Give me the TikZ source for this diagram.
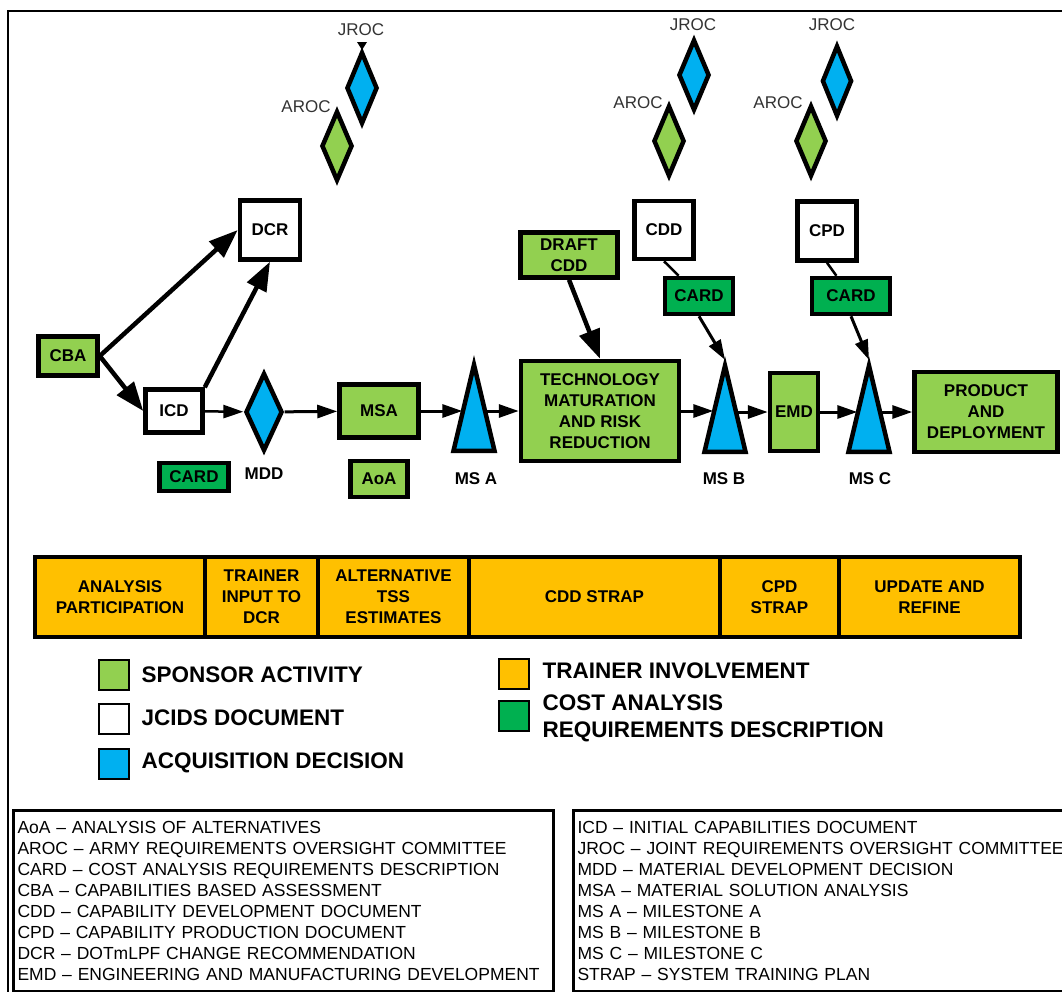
\documentclass[tikz,border=0pt]{standalone}
\usepackage{fontspec}
\setmainfont{Liberation Sans}
\usepackage{xcolor}
\usetikzlibrary{shapes.geometric,arrows.meta}
\definecolor{sponsor}{HTML}{92D050}
\definecolor{decision}{HTML}{00B0F0}
\definecolor{cost}{HTML}{00B050}
\definecolor{trainer}{HTML}{FFC000}

\begin{document}
\begin{tikzpicture}[x=1pt, y=-1pt, >={Triangle[length=20pt,width=13pt]},
  box/.style={draw, line width=4.5pt, inner sep=0pt, align=center, font=\bfseries\fontsize{17}{21}\selectfont},
  act/.style={box, fill=sponsor},
  doc/.style={box, fill=white},
  card/.style={box, fill=cost},
  dia/.style={diamond, draw, line width=4.5pt, inner sep=0pt},
  ms/.style={isosceles triangle, isosceles triangle stretches, shape border rotate=90, draw, line width=4.5pt, fill=decision, inner sep=0pt, minimum width=41pt, minimum height=86pt, anchor=lower side},
  lbl/.style={font=\bfseries\fontsize{17}{21}\selectfont},
  board/.style={font=\fontsize{17}{20}\selectfont, text=black!80},
  band/.style={box, fill=trainer, minimum height=80pt},
  key/.style={draw, line width=2pt, minimum width=30pt, minimum height=30pt, inner sep=0pt},
  keytext/.style={anchor=west, align=left, font=\bfseries\fontsize{22.5}{27}\selectfont},
  glossary/.style={draw, line width=3pt, anchor=north west, align=left, inner xsep=4pt, text width=532pt, minimum width=540pt, minimum height=181pt, font=\fontsize{17.5}{21.1}\selectfont},
  heavy/.style={->, line width=4.5pt, >={Triangle[length=29pt,width=21pt]}},
  flow/.style={->, line width=3pt},
  link/.style={line width=2.5pt}]
\path[use as bounding box, fill=white] (0,0) rectangle (1062,991);
\draw[line width=2.5pt] (8,995) -- (8,11) -- (1070,11);

% oversight reviews
\node[board] (JR1) at (361,30) {JROC};
\node[board] (JR2) at (693,25) {JROC};
\node[board] (JR3) at (832,25) {JROC};
\node[board] (AR1) at (306,107) {AROC};
\node[board] (AR2) at (638,103) {AROC};
\node[board] (AR3) at (778,103) {AROC};
\fill (357,42) -- (367,42) -- (362,50) -- cycle;
\node[dia, fill=decision, minimum width=31pt, minimum height=72pt] (J1) at (362,88) {};
\node[dia, fill=sponsor, minimum width=31pt, minimum height=70pt] (A1) at (337,146) {};
\node[dia, fill=decision, minimum width=31pt, minimum height=71pt] (J2) at (694,75) {};
\node[dia, fill=sponsor, minimum width=31pt, minimum height=71pt] (A2) at (669,141) {};
\node[dia, fill=decision, minimum width=30pt, minimum height=71pt] (J3) at (837,81) {};
\node[dia, fill=sponsor, minimum width=31pt, minimum height=71pt] (A3) at (811,141) {};

% documents
\node[doc, minimum width=60pt, minimum height=59pt] (DCR) at (270,230) {DCR};
\node[doc, minimum width=59pt, minimum height=58pt] (CDD) at (664,230) {CDD};
\node[doc, minimum width=59pt, minimum height=59pt] (CPD) at (827,231) {CPD};
\node[act, minimum width=97pt, minimum height=45pt] (DCDD) at (569,255) {DRAFT\\CDD};
\node[card, minimum width=68pt, minimum height=36pt] (CARD1) at (699,296) {CARD};
\node[card, minimum width=78pt, minimum height=36pt] (CARD2) at (851,296) {CARD};

% main line
\node[act, minimum width=59pt, minimum height=39pt] (CBA) at (68,356) {CBA};
\node[doc, minimum width=57pt, minimum height=43pt] (ICD) at (174,411) {ICD};
\node[card, minimum width=69pt, minimum height=28pt] (CARD0) at (194,477) {CARD};
\node[dia, fill=decision, minimum width=37pt, minimum height=78pt] (MDD) at (264,412) {};
\node[lbl] (MDDl) at (264,474) {MDD};
\node[act, minimum width=79pt, minimum height=53pt] (MSA) at (379,411) {MSA};
\node[act, minimum width=57pt, minimum height=36pt] (AoA) at (379,479) {AoA};
\node[ms] (MSa) at (474,453) {};
\node[lbl] (MSal) at (476,479) {MS A};
\node[act, minimum width=158pt, minimum height=100pt] (TMRR) at (600,411) {TECHNOLOGY\\MATURATION\\AND RISK\\REDUCTION};
\node[ms] (MSb) at (725,454) {};
\node[lbl] (MSbl) at (724,479) {MS B};
\node[act, minimum width=48pt, minimum height=78pt] (EMD) at (794,412) {EMD};
\node[ms] (MSc) at (869,454) {};
\node[lbl] (MScl) at (870,479) {MS C};
\node[act, minimum width=143pt, minimum height=80pt] (PD) at (986,412) {PRODUCT\\AND\\DEPLOYMENT};

% arrows
\draw[heavy] (CBA.east) -- (DCR.west);
\draw[heavy] (CBA.east) -- (ICD.west);
\draw[heavy] (ICD.north east) -- (DCR.south);
\draw[heavy] (DCDD.south) -- (TMRR.north);
\draw[flow, line width=2.5pt] (ICD) -- (MDD);
\draw[flow] (MDD) -- (MSA);
\draw[flow] (MSA) -- (MSA -| MSa.left side);
\draw[flow] (TMRR -| MSa.right side) -- (TMRR);
\draw[flow] (TMRR) -- (TMRR -| MSb.left side);
\draw[flow] (EMD -| MSb.right side) -- (EMD);
\draw[flow] (EMD) -- (EMD -| MSc.left side);
\draw[flow] (PD -| MSc.right side) -- (PD);
\draw[link] (CDD.south) -- (CARD1);
\draw[link] (CPD.south) -- (CARD2);
\draw[flow] (CARD1.south) -- (MSb.apex);
\draw[flow] (CARD2.south) -- (MSc.apex);

% trainer band
\node[band, minimum width=170pt] (T1) at (120,597) {ANALYSIS\\PARTICIPATION};
\node[band, minimum width=113pt] (T2) at (261.5,597) {TRAINER\\INPUT TO\\DCR};
\node[band, minimum width=151pt] (T3) at (393.5,597) {ALTERNATIVE\\TSS\\ESTIMATES};
\node[band, minimum width=251pt] (T4) at (594.5,597) {CDD STRAP};
\node[band, minimum width=119pt] (T5) at (779.5,597) {CPD\\STRAP};
\node[band, minimum width=181pt] (T6) at (929.5,597) {UPDATE AND\\REFINE};

% legend
\node[key, fill=sponsor] (K1) at (114,675) {};
\node[key, fill=white] (K2) at (114,719) {};
\node[key, fill=decision] (K3) at (114,764) {};
\node[key, fill=trainer] (K4) at (514,674) {};
\node[key, fill=cost] (K5) at (514,716) {};
\node[keytext] (L1) at (138,675) {SPONSOR ACTIVITY};
\node[keytext] (L2) at (138,718) {JCIDS DOCUMENT};
\node[keytext] (L3) at (138,763) {ACQUISITION DECISION};
\node[keytext] (L4) at (539,671) {TRAINER INVOLVEMENT};
\node[keytext] (L5) at (539,718) {COST ANALYSIS\\REQUIREMENTS DESCRIPTION};

% acronyms
\node[glossary] (G1) at (12,809) {AoA -- ANALYSIS OF ALTERNATIVES\\
AROC -- ARMY REQUIREMENTS OVERSIGHT COMMITTEE\\
CARD -- COST ANALYSIS REQUIREMENTS DESCRIPTION\\
CBA -- CAPABILITIES BASED ASSESSMENT\\
CDD -- CAPABILITY DEVELOPMENT DOCUMENT\\
CPD -- CAPABILITY PRODUCTION DOCUMENT\\
DCR -- DOTmLPF CHANGE RECOMMENDATION\\
EMD -- ENGINEERING AND MANUFACTURING DEVELOPMENT};
\node[glossary] (G2) at (572,809) {ICD -- INITIAL CAPABILITIES DOCUMENT\\
JROC -- JOINT REQUIREMENTS OVERSIGHT COMMITTEE\\
MDD -- MATERIAL DEVELOPMENT DECISION\\
MSA -- MATERIAL SOLUTION ANALYSIS\\
MS A -- MILESTONE A\\
MS B -- MILESTONE B\\
MS C -- MILESTONE C\\
STRAP -- SYSTEM TRAINING PLAN};
\end{tikzpicture}
\end{document}
